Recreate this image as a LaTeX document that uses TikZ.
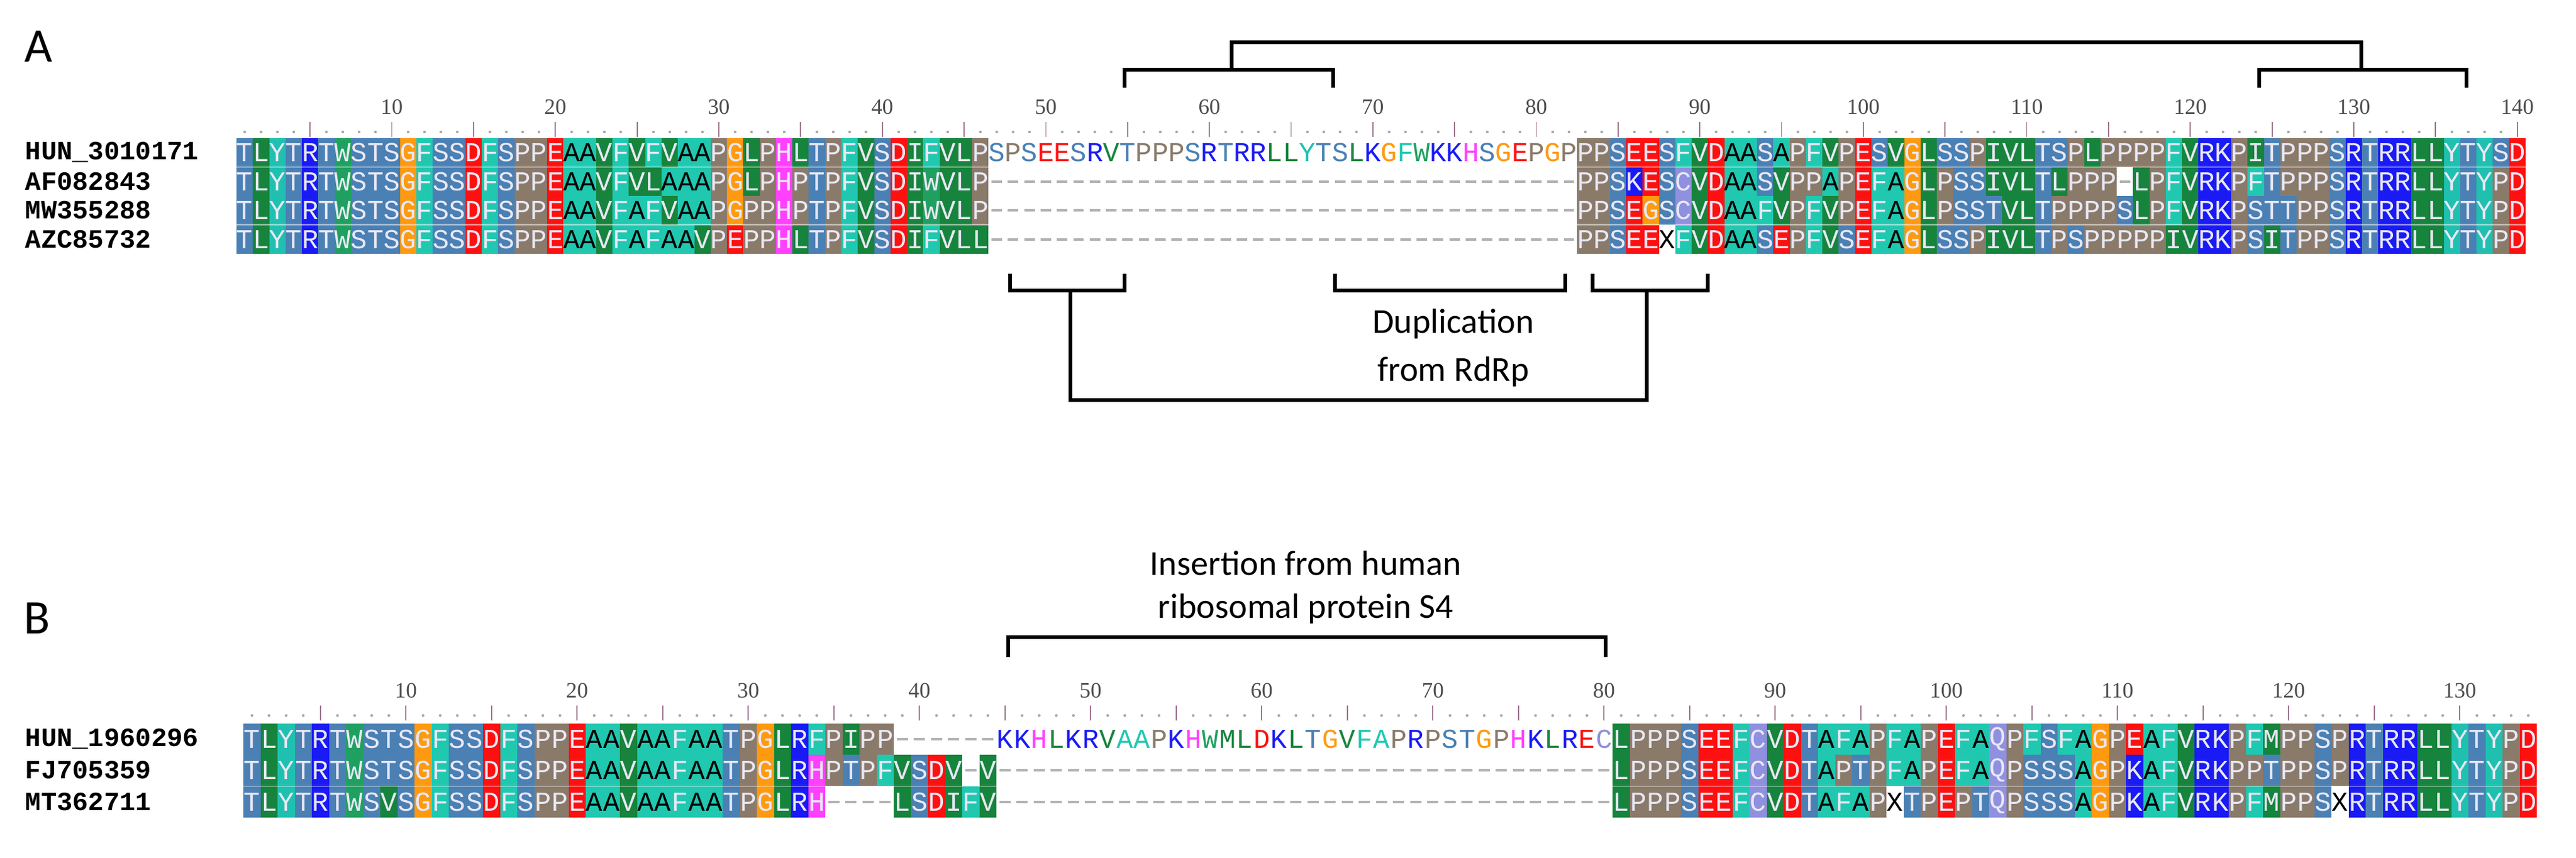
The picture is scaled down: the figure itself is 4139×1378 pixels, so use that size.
\documentclass[tikz,border=0pt]{standalone}
\usepackage{fontspec}
\setmainfont{Carlito}
\newfontfamily\monofont{Liberation Mono}
\newfontfamily\numfont{Liberation Serif}
\usetikzlibrary{positioning}

% residue colours
\definecolor{aaA}{HTML}{20C8B0}\definecolor{aaY}{HTML}{20C0B0}\definecolor{aaF}{HTML}{20C8B0}
\definecolor{aaR}{HTML}{1A1AF5}\definecolor{aaK}{HTML}{1A1AF5}
\definecolor{aaD}{HTML}{FF1010}\definecolor{aaE}{HTML}{FF1010}
\definecolor{aaS}{HTML}{4A80B4}\definecolor{aaT}{HTML}{4A80B4}
\definecolor{aaL}{HTML}{16843C}\definecolor{aaV}{HTML}{16843C}\definecolor{aaI}{HTML}{16843C}
\definecolor{aaM}{HTML}{16843C}\definecolor{aaN}{HTML}{16843C}\definecolor{aaW}{HTML}{20A060}
\definecolor{aaG}{HTML}{FF9A10}\definecolor{aaP}{HTML}{8A7A6A}\definecolor{aaH}{HTML}{FF40FF}
\definecolor{aaC}{HTML}{9090E0}\definecolor{aaQ}{HTML}{9090E0}\definecolor{aaX}{HTML}{FFFFFF}
\definecolor{resfg}{HTML}{E8E8F4}
\definecolor{tickcol}{HTML}{A07890}

\tikzset{
	restext/.style = {font=\monofont\fontsize{12.5}{12.5}\selectfont, inner sep=0pt},
	seqname/.style = {font=\monofont\bfseries\fontsize{12}{12}\selectfont, anchor=west, inner sep=0pt},
	numlbl/.style = {font=\numfont\fontsize{10}{10}\selectfont, text=black!70, inner sep=0pt},
	panel/.style = {font=\fontsize{22}{22}\selectfont, inner sep=0pt},
	note/.style = {font=\fontsize{16}{16}\selectfont, inner sep=0pt},
	gapdash/.style = {draw=gray!60, line width=1pt},
	rtick/.style = {draw=tickcol, line width=0.5pt},
	rdot/.style = {fill=gray!70},
	brk/.style = {draw=black, line width=1.5pt}
}

% one alignment row: x0, pitch, y, height, plain from, plain to, residues
\def\alnrow#1#2#3#4#5#6#7{\def\ax{#1}\def\ap{#2}\def\ay{#3}\def\ah{#4}%
	\def\pa{#5}\def\pb{#6}\def\ci{0}\alnparse#7\relax}
\def\alnparse#1{\ifx#1\relax\else\alnres{#1}\expandafter\alnparse\fi}
\def\alnres#1{%
	\pgfmathtruncatemacro\ci{\ci+1}%
	\pgfmathsetmacro\cx{\ax+(\ci-0.5)*\ap}%
	\if#1-%
		\draw[gapdash] (\cx-0.32*\ap,\ay) -- (\cx+0.32*\ap,\ay);
	\else
		\def\plain{0}%
		\ifnum\ci<\pa\relax\else\ifnum\ci>\pb\relax\else\def\plain{1}\fi\fi
		\if\plain1%
			\node[restext, text=aa#1] at (\cx,\ay) {#1};
		\else
			\def\tc{resfg}\ifx#1A\def\tc{black}\fi\ifx#1X\def\tc{black}\fi
			\fill[aa#1] (\cx-0.5*\ap,\ay-0.5*\ah) rectangle (\cx+0.5*\ap,\ay+0.5*\ah);
			\node[restext, text=\tc] at (\cx,\ay) {#1};
		\fi
	\fi}

% ruler: x0, pitch, y of dots, columns, y of numbers
\newcommand\alnruler[5]{%
	\foreach \k in {1,...,#4}{
		\pgfmathsetmacro\cx{#1+(\k-0.5)*#2}
		\pgfmathtruncatemacro\mf{mod(\k,5)}
		\pgfmathtruncatemacro\mt{mod(\k,10)}
		\ifnum\mf=0 \draw[rtick] (\cx,#3-16) -- (\cx,#3+8); \else \fill[rdot] (\cx,#3) circle (2.2); \fi
		\ifnum\mt=0 \node[numlbl] at (\cx,#5) {\k}; \fi
	}}

\begin{document}
\begin{tikzpicture}[x=0.01cm, y=-0.01cm]
	\useasboundingbox (0,0) rectangle (4139,1378);

	%% panel A
	\node[panel] (labA) at (62,75) {A};
	\alnruler{380}{26.27}{212}{140}{172}
	\alnrow{380}{26.27}{245}{46.5}{47}{82}{TLYTRTWSTSGFSSDFSPPEAAVFVFVAAPGLPHLTPFVSDIFVLPSPSEESRVTPPPSRTRRLLYTSLKGFWKKHSGEPGPPPSEESFVDAASAPFVPESVGLSSPIVLTSPLPPPPFVRKPITPPPSRTRRLLYTYSD}
	\alnrow{380}{26.27}{292}{46.5}{999}{0}{TLYTRTWSTSGFSSDFSPPEAAVFVLAAAPGLPHPTPFVSDIWVLP------------------------------------PPSKESCVDAASVPPAPEFAGLPSSIVLTLPPP-LPFVRKPFTPPPSRTRRLLYTYPD}
	\alnrow{380}{26.27}{338}{46.5}{999}{0}{TLYTRTWSTSGFSSDFSPPEAAVFAFVAAPGPPHPTPFVSDIWVLP------------------------------------PPSEGSCVDAAFVPFVPEFAGLPSSTVLTPPPPSLPFVRKPSTTPPSRTRRLLYTYPD}
	\alnrow{380}{26.27}{385}{46.5}{999}{0}{TLYTRTWSTSGFSSDFSPPEAAVFAFAAVPEPPHLTPFVSDIFVLL------------------------------------PPSEEXFVDAASEPFVSEFAGLSSPIVLTPSPPPPPIVRKPSITPPSRTRRLLYTYPD}
	\node[seqname] (hunA) at (40,245) {HUN\_3010171};
	\node[seqname] (af) at (40,292) {AF082843};
	\node[seqname] (mw) at (40,338) {MW355288};
	\node[seqname] (azc) at (40,385) {AZC85732};

	% brackets above
	\draw[brk] (1807,141) -- (1807,112) -- (2142,112) -- (2142,141);
	\draw[brk] (3630,141) -- (3630,112) -- (3963,112) -- (3963,141);
	\draw[brk] (1979,112) -- (1979,68) -- (3794,68) -- (3794,112);
	% brackets below
	\draw[brk] (1623,440) -- (1623,467) -- (1807,467) -- (1807,440);
	\draw[brk] (2145,440) -- (2145,467) -- (2515,467) -- (2515,440);
	\draw[brk] (2559,440) -- (2559,467) -- (2744,467) -- (2744,440);
	\draw[brk] (1720,467) -- (1720,643) -- (2646,643) -- (2646,467);
	\node[note] (dup1) at (2335,520) {Duplication};
	\node[note, below=0.28cm of dup1] (dup2) {from RdRp};

	%% panel B
	\node[panel] (labB) at (60,994) {B};
	\node[note] (ins1) at (2098,905) {Insertion from human};
	\node[note, below=0.28cm of ins1] (ins2) {ribosomal protein S4};
	\draw[brk] (1620,1056) -- (1620,1024) -- (2580,1024) -- (2580,1056);
	\alnruler{391}{27.5}{1150}{134}{1110}
	\alnrow{391}{27.5}{1188}{50}{45}{80}{TLYTRTWSTSGFSSDFSPPEAAVAAFAATPGLRFPIPP------KKHLKRVAAPKHWMLDKLTGVFAPRPSTGPHKLRECLPPPSEEFCVDTAFAPFAPEFAQPFSFAGPEAFVRKPFMPPSPRTRRLLYTYPD}
	\alnrow{391}{27.5}{1238}{50}{999}{0}{TLYTRTWSTSGFSSDFSPPEAAVAAFAATPGLRHPTPFVSDV-V------------------------------------LPPPSEEFCVDTAPTPFAPEFAQPSSSAGPKAFVRKPPTPPSPRTRRLLYTYPD}
	\alnrow{391}{27.5}{1289}{50}{999}{0}{TLYTRTWSVSGFSSDFSPPEAAVAAFAATPGLRH----LSDIFV------------------------------------LPPPSEEFCVDTAFAPXTPEPTQPSSSAGPKAFVRKPFMPPSXRTRRLLYTYPD}
	\node[seqname] (hunB) at (40,1188) {HUN\_1960296};
	\node[seqname] (fj) at (40,1238) {FJ705359};
	\node[seqname] (mt) at (40,1289) {MT362711};
\end{tikzpicture}
\end{document}
